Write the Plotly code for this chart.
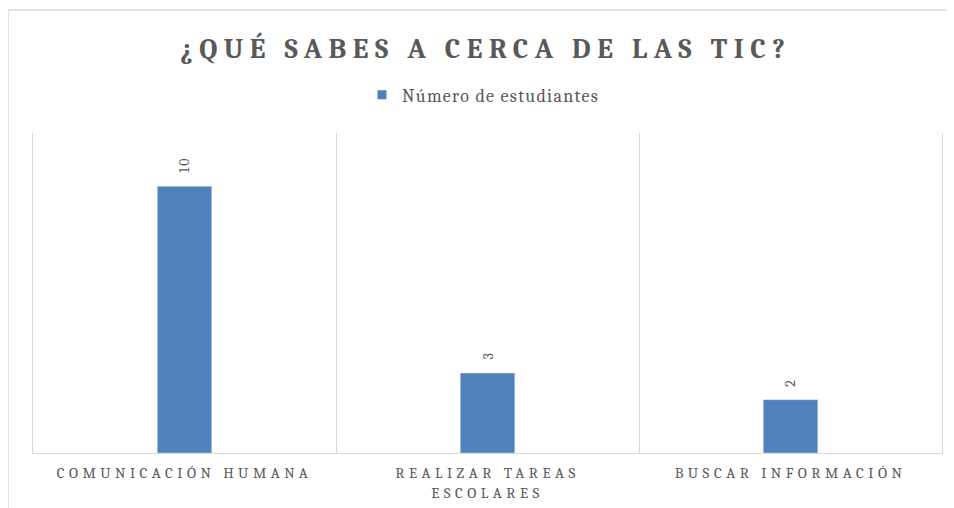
import plotly.graph_objects as go

categories = ["COMUNICACIÓN HUMANA", "REALIZAR TAREAS ESCOLARES", "BUSCAR INFORMACIÓN"]
tick_labels = ["COMUNICACIÓN HUMANA", "REALIZAR TAREAS<br>ESCOLARES", "BUSCAR INFORMACIÓN"]
values = [10, 3, 2]
series_name = "Número de estudiantes"
title_text = "¿QUÉ SABES A CERCA DE LAS TIC?"

serif = "Cambria, Caladea, 'DejaVu Serif', 'Liberation Serif', serif"
gray = "#595959"
blue = "#4F81BD"
grid = "#D9D9D9"


def spaced(s, px):
    return "<br>".join(f'<span style="letter-spacing:{px}px">{part}</span>' for part in s.split("<br>"))


fig = go.Figure()
fig.add_trace(go.Bar(
    x=categories, y=values, name=series_name,
    marker=dict(color=blue),
    width=0.18,
    showlegend=False,
))
# legend entry with small square marker
fig.add_trace(go.Scatter(
    x=[None], y=[None], mode="markers", name=spaced(series_name, 1.3),
    marker=dict(symbol="square", size=9, color=blue),
    showlegend=True,
))

for c, v in zip(categories, values):
    fig.add_annotation(x=c, y=v, text=spaced(str(v), 2), showarrow=False,
                       textangle=-90, yanchor="bottom", yshift=11,
                       font=dict(family=serif, size=14, color=gray))

fig.update_layout(
    width=946, height=500,
    margin=dict(l=25, r=12, t=125, b=55, autoexpand=False),
    paper_bgcolor="white", plot_bgcolor="white",
    title=dict(text="<b>" + spaced(title_text, 6.5) + "</b>", x=0.505, xanchor="center",
               y=1 - 40 / 500, yanchor="middle",
               font=dict(family=serif, size=28, color=gray)),
    legend=dict(orientation="h", x=0.5 - 4 / 909, xanchor="center", y=(445 - 87) / 320,
                yanchor="middle", font=dict(family=serif, size=18, color=gray),
                itemwidth=30),
    xaxis=dict(type="category", tickson="boundaries", showgrid=True, gridcolor=grid,
               gridwidth=1, showline=True, linecolor=grid, ticks="",
               tickmode="array", tickvals=categories,
               ticktext=[spaced(t, 4.5) for t in tick_labels],
               ticklabelstandoff=6, automargin=False,
               tickfont=dict(family=serif, size=15, color=gray)),
    yaxis=dict(range=[0, 12], showgrid=False, showticklabels=False, zeroline=False,
               showline=True, linecolor=grid, mirror=True, ticks="", automargin=False),
    shapes=[dict(type="rect", xref="paper", yref="paper",
                 x0=-25 / 909, x1=1.2, y0=-0.5, y1=(445 - 2) / 320,
                 line=dict(color=grid, width=1.5), fillcolor="rgba(0,0,0,0)",
                 layer="below")],
)

fig.write_html("out.html")
